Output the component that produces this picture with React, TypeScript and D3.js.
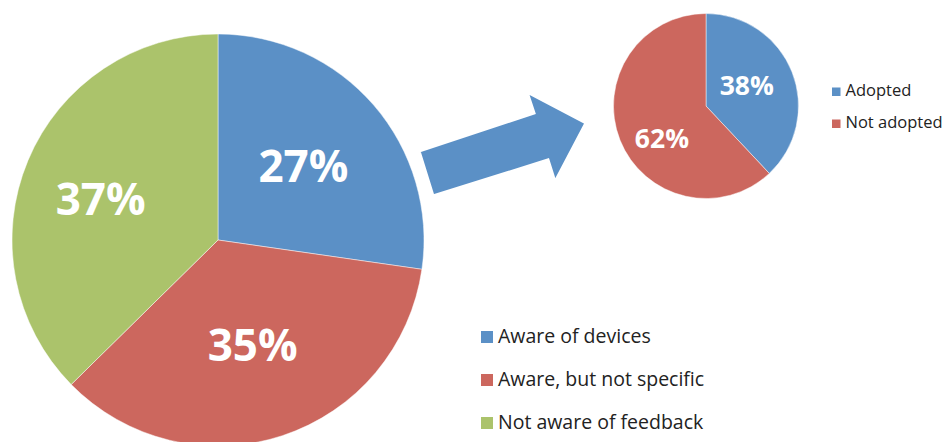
import React, { useRef, useEffect } from 'react'
import * as d3 from 'd3'

// main pie
const mainCategories = ['Aware of devices', 'Aware, but not specific', 'Not aware of feedback']
const mainValues = [27, 35, 37]
const mainColors = ['#5b90c6', '#cc675e', '#abc36b']

// detail pie (share of "Aware of devices")
const subCategories = ['Adopted', 'Not adopted']
const subValues = [38, 62]
const subColors = ['#5b90c6', '#cc675e']

const FONT = '"Open Sans", "Noto Sans", sans-serif'

function App() {
  const svgRef = useRef(null)

  useEffect(() => {
    const svg = d3.select(svgRef.current)
    svg.selectAll('*').remove()

    const pie = d3.pie<number>().sort(null).value((d) => d)

    //draw a pie with labels at given center/radius (+ small nudges like excel does)
    const drawPie = (
      values: number[],
      colors: string[],
      cx: number,
      cy: number,
      r: number,
      labelR: number[],
      nudge: [number, number][],
      fontSize: number
    ) => {
      const g = svg.append('g').attr('transform', `translate(${cx},${cy})`)
      const arcs = pie(values)
      const arc = d3.arc<any>().innerRadius(0).outerRadius(r)
      g.selectAll('path')
        .data(arcs)
        .join('path')
        .attr('d', arc)
        .attr('fill', (d, i) => colors[i])
        .attr('stroke', '#fff')
        .attr('stroke-opacity', 0.6)
        .attr('stroke-width', 0.8)
      g.selectAll('text')
        .data(arcs)
        .join('text')
        .attr('transform', (d, i) => {
          const c = d3.arc<any>().innerRadius(labelR[i]).outerRadius(labelR[i]).centroid(d)
          return `translate(${c[0] + nudge[i][0]},${c[1] + nudge[i][1]})`
        })
        .attr('text-anchor', 'middle')
        .attr('dy', '0.36em')
        .attr('fill', '#fff')
        .attr('font-family', FONT)
        .attr('font-weight', 700)
        .attr('font-size', fontSize)
        .text((d) => `${d.data}%`)
    }

    drawPie(mainValues, mainColors, 218, 240, 206, [113, 111, 124], [[0, 0], [0, 0], [-3, 7]], 44)

    //arrow between the pies
    const arrow: [number, number][] = [
      [419, 151],
      [534, 113],
      [527, 92],
      [586, 123],
      [555, 182],
      [548, 160],
      [433, 196],
    ]
    svg
      .append('path')
      .attr('d', d3.line()(arrow) + 'Z')
      .attr('fill', '#5b90c6')
      .attr('stroke', '#fff')
      .attr('stroke-width', 3)
      .attr('stroke-linejoin', 'miter')

    drawPie(subValues, subColors, 706, 106, 92.5, [46, 56], [[-2, -4], [8, 12]], 26.5)

    //legends
    const legend = (
      cats: string[],
      colors: string[],
      x: number,
      y0: number,
      step: number,
      box: number,
      fontSize: number
    ) => {
      const g = svg.append('g')
      const rows = g
        .selectAll('g')
        .data(cats)
        .join('g')
        .attr('transform', (d, i) => `translate(${x},${y0 + i * step})`)
      rows
        .append('rect')
        .attr('x', 0)
        .attr('y', -box)
        .attr('width', box)
        .attr('height', box)
        .attr('fill', (d, i) => colors[i])
      rows
        .append('text')
        .attr('x', box + 5)
        .attr('y', 0)
        .attr('font-family', FONT)
        .attr('font-size', fontSize)
        .attr('fill', '#222')
        .text((d) => d)
    }

    legend(mainCategories, mainColors, 481, 343, 43, 12, 19.5)
    legend(subCategories, subColors, 832, 96, 32, 8.5, 16.5)
  }, [])

  return (
    <svg
      ref={svgRef}
      width={947}
      height={442}
      style={{ position: 'absolute', left: 0, top: 0, background: '#fff' }}
    />
  )
}

export default App
